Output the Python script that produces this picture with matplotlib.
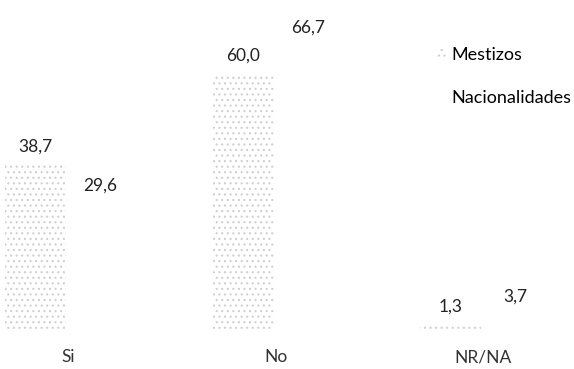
import matplotlib
matplotlib.use("Agg")
import matplotlib.pyplot as plt
import numpy as np

categories = ["Si", "No", "NR/NA"]
series_names = ["Mestizos", "Nacionalidades"]
mestizos = [38.7, 60.0, 1.3]
nacionalidades = [29.6, 66.7, 3.7]
value_labels_m = ["38,7", "60,0", "1,3"]
value_labels_n = ["29,6", "66,7", "3,7"]

plt.rcParams['font.family'] = ['Lato', 'DejaVu Sans']
plt.rcParams['hatch.linewidth'] = 0.8
plt.rcParams['hatch.color'] = '#bdbdbd'

fig = plt.figure(figsize=(5.74, 3.69), dpi=100)
ax = fig.add_axes([0, 39/369, 1, 330/369])

x = np.arange(len(categories))
w = 0.294
off = 0.155
b1 = ax.bar(x - off, mestizos, w, facecolor='white', edgecolor='#cfcfcf',
            hatch='...', linewidth=0, label=series_names[0])
b2 = ax.bar(x + off, nacionalidades, w, facecolor='white', edgecolor='white',
            linewidth=0, label=series_names[1])

for xi, v, t in zip(x - off, mestizos, value_labels_m):
    ax.annotate(t, (xi, v), xytext=(0, 13), textcoords='offset pixels',
                ha='center', va='baseline', fontsize=12.5, color='#222222')
for xi, v, t in zip(x + off, nacionalidades, value_labels_n):
    ax.annotate(t, (xi, v), xytext=(0, 13), textcoords='offset pixels',
                ha='center', va='baseline', fontsize=12.5, color='#222222')

ax.set_xlim(-68/207.5, (574-68)/207.5)
ax.set_ylim(0, 330/4.27)
ax.set_xticks(x)
ax.set_xticklabels(categories, fontsize=12.5, color='#333333')
ax.tick_params(axis='x', length=0, pad=14)
ax.set_yticks([])
for s in ax.spines.values():
    s.set_visible(False)

leg = ax.legend(loc='upper left', bbox_to_anchor=(430/574, 1 - 40/330), frameon=False,
                fontsize=13, handlelength=0.5, handleheight=0.6, handletextpad=0.3,
                labelspacing=1.5, borderaxespad=0)
fig.savefig("out.png", dpi=100, facecolor='white')
